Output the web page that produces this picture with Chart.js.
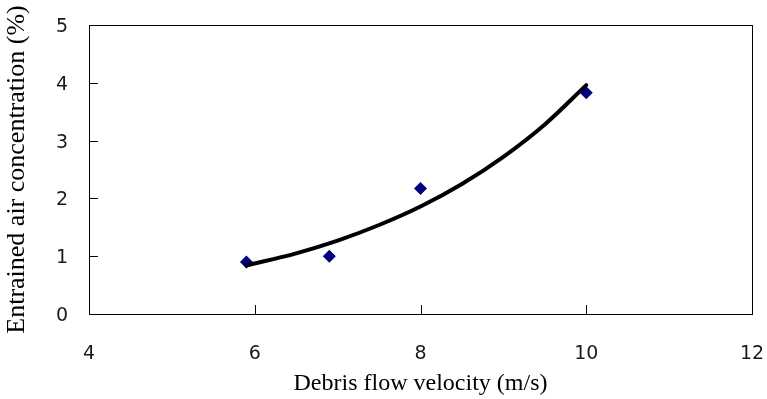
<!DOCTYPE html>
<html>
<head>
<meta charset="utf-8">
<script src="https://cdn.jsdelivr.net/npm/chart.js@4/dist/chart.umd.min.js"></script>
<style>
  html, body { margin: 0; padding: 0; background: #fff; }
  #wrap { width: 767px; height: 399px; }
</style>
</head>
<body>
<div id="wrap"><canvas id="myChart" width="767" height="399"></canvas></div>
<script>
    // measured points
    const velocity = [5.9, 6.9, 8.0, 10.0];
    const airConc = [0.9, 1.0, 2.17, 3.83];

    // exponential trend curve
    const trendX = [5.9, 6.5, 7.0, 7.5, 8.0, 8.5, 9.0, 9.5, 10.0];
    const trendY = [0.84, 1.05, 1.27, 1.54, 1.86, 2.25, 2.72, 3.28, 3.96];

    const xTicks = [4, 6, 8, 10, 12];
    const yTicks = [0, 1, 2, 3, 4, 5];

    const pointData = velocity.map((v, i) => ({ x: v, y: airConc[i] }));
    const trendData = trendX.map((v, i) => ({ x: v, y: trendY[i] }));

    // box around the plot plus tick marks pointing inward
    const frame = {
        id: 'frame',
        beforeDatasetsDraw(chart) {
            const ctx = chart.ctx;
            const a = chart.chartArea;
            const xs = chart.scales.x;
            const ys = chart.scales.y;
            ctx.save();
            ctx.strokeStyle = '#000';
            ctx.lineWidth = 1;
            ctx.strokeRect(Math.round(a.left) + 0.5, Math.round(a.top) + 0.5,
                Math.round(a.right - a.left), Math.round(a.bottom - a.top));
            ctx.beginPath();
            xTicks.forEach(t => {
                const px = Math.round(xs.getPixelForValue(t)) + 0.5;
                ctx.moveTo(px, a.bottom);
                ctx.lineTo(px, a.bottom - 9);
            });
            yTicks.forEach(t => {
                const py = Math.round(ys.getPixelForValue(t)) + 0.5;
                ctx.moveTo(a.left, py);
                ctx.lineTo(a.left + 9, py);
            });
            ctx.stroke();
            ctx.restore();
        }
    };

    const config = {
        type: 'scatter',
        data: {
            datasets: [{
                label: 'Trend',
                data: trendData,
                showLine: true,
                borderColor: '#000',
                borderWidth: 4,
                borderCapStyle: 'round',
                cubicInterpolationMode: 'monotone',
                pointRadius: 0,
                fill: false
            }, {
                label: 'Measured',
                data: pointData,
                pointStyle: 'rectRot',
                pointRadius: 6.5,
                backgroundColor: '#000080',
                borderColor: '#000080',
                borderWidth: 0
            }]
        },
        options: {
            responsive: false,
            animation: false,
            layout: { padding: { left: 0, top: 25, right: 15, bottom: 0 } },
            plugins: {
                legend: { display: false },
                tooltip: { enabled: false }
            },
            scales: {
                x: {
                    type: 'linear',
                    min: 4,
                    max: 12,
                    afterBuildTicks: s => { s.ticks = xTicks.map(v => ({ value: v })); },
                    afterFit: s => {
                        s.height = 85;
                        s.paddingLeft = 0;
                        s.paddingRight = 0;
                    },
                    grid: { drawOnChartArea: false, drawTicks: false },
                    border: { display: false },
                    ticks: {
                        padding: 29,
                        color: '#1a1a1a',
                        font: { family: 'DejaVu Sans', size: 19 }
                    },
                    title: {
                        display: true,
                        text: 'Debris flow velocity (m/s)',
                        color: '#000',
                        font: { family: 'Liberation Serif', size: 24 },
                        padding: { top: 0, bottom: 1 }
                    }
                },
                y: {
                    min: 0,
                    max: 5,
                    afterBuildTicks: s => { s.ticks = yTicks.map(v => ({ value: v })); },
                    afterFit: s => {
                        s.width = 89;
                        s.paddingTop = 0;
                        s.paddingBottom = 0;
                    },
                    grid: { drawOnChartArea: false, drawTicks: false },
                    border: { display: false },
                    ticks: {
                        padding: 21,
                        labelOffset: 2,
                        color: '#1a1a1a',
                        font: { family: 'DejaVu Sans', size: 19 }
                    },
                    title: {
                        display: true,
                        text: 'Entrained air concentration (%)',
                        color: '#000',
                        font: { family: 'Liberation Serif', size: 26 },
                        padding: { top: 2, bottom: 0 }
                    }
                }
            }
        },
        plugins: [frame]
    };

    const myChart = new Chart(document.getElementById('myChart'), config);
</script>
</body>
</html>
